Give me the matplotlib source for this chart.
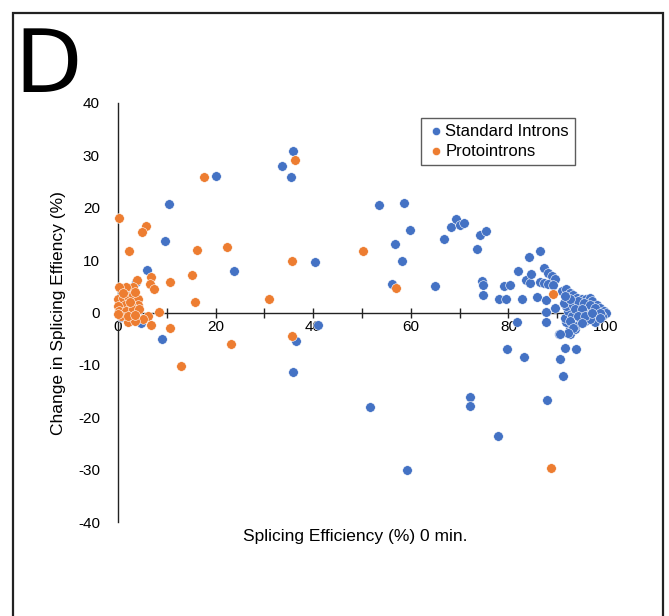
import matplotlib
matplotlib.use("Agg")
import matplotlib.pyplot as plt
from matplotlib.patches import Rectangle
from matplotlib.ticker import MultipleLocator

plt.rcParams['font.family'] = ['Liberation Sans', 'DejaVu Sans']

# ---- data ----
std_x = [35.8, 33.7, 35.5, 20.1, 10.5, 9.7, 6.0, 23.8, 40.4, 41.0, 36.5, 35.9, 9.0, 3.7, 2.5, 0.6, 4.8, 1.5,
         53.5, 58.6, 59.8, 56.8, 58.1, 56.1, 65.0, 66.8, 68.2, 69.3, 70.1, 70.8, 73.5, 74.2, 75.5,
         74.6, 74.7, 74.8, 78.1, 79.5, 79.2, 80.3, 82.0, 84.2, 86.5, 83.6, 84.4, 84.6, 82.7, 85.8,
         86.5, 87.3, 88.2, 88.9, 89.5, 87.2, 88.2, 89.2, 87.8, 87.7, 89.5, 87.8, 81.7,
         51.6, 72.1, 72.1, 77.8, 59.3, 88.0, 79.8, 83.2, 90.4, 92.6, 93.6, 91.5, 93.9, 90.5, 91.2,
         90.9, 91.9, 92.6, 93.3, 94.0, 95.0, 96.0, 96.7, 97.1, 98.1, 98.8, 99.5, 100.0, 99.1, 98.1,
         97.7, 95.7, 94.7, 93.6, 92.6, 91.9, 91.6, 92.3, 91.9, 91.3, 93.3, 94.7, 96.0, 97.4, 95.4,
         94.0, 93.0, 96.4, 94.3, 92.6, 91.6, 95.4, 96.7, 97.7, 93.6, 95.0, 92.6, 96.7, 98.8, 94.3,
         95.7, 97.1, 93.3, 92.3, 95.0, 98.8, 90.6]
std_y = [30.8, 28.0, 25.8, 26.1, 20.8, 13.6, 8.2, 7.9, 9.6, -2.4, -5.5, -11.3, -5.0, 5.8, 3.5, -0.8, -2.0, 2.0,
         20.6, 20.9, 15.8, 13.1, 9.9, 5.5, 5.0, 14.1, 16.4, 17.8, 16.8, 17.0, 12.2, 14.8, 15.6,
         6.1, 5.2, 3.4, 2.5, 2.5, 5.0, 5.2, 7.9, 10.6, 11.7, 6.2, 5.7, 7.3, 2.5, 2.9,
         5.8, 8.5, 7.6, 6.9, 6.4, 5.7, 5.5, 5.3, 2.3, 0.1, 0.9, -1.9, -1.8,
         -18.1, -16.2, -17.8, -23.6, -30.0, -16.7, -6.9, -8.5, -4.2, -4.1, -3.2, -6.7, -7.0, -8.8, -12.1,
         4.2, 4.4, 3.7, 3.4, 2.8, 2.5, 2.5, 2.8, 2.2, 1.5, 0.9, 0.25, -0.06, -0.7, -0.7,
         -1.9, -1.6, -1.3, -2.6, -2.9, -1.9, -1.0, 0.25, 1.2, 1.8, 1.5, 1.2, 0.9, 0.25, -0.06,
         -0.06, -0.7, -0.7, 2.2, 2.5, 3.1, 1.8, 1.5, 0.9, 0.6, 0.6, -1.6, -1.3, -0.06, -0.7,
         -0.7, -0.06, -2.9, -3.9, -2.0, -1.0, -4.2]

proto_x = [0.3, 5.7, 5.0, 2.3, 17.7, 36.3, 16.2, 22.3, 35.6, 15.1, 10.6, 15.7, 31.0, 6.8, 6.5, 7.3,
           3.9, 3.1, 1.7, 0.3, 8.5, 6.1, 5.1, 6.7, 10.6, 2.0, 3.4, 35.6, 23.1, 13.0, 50.3, 57.0,
           89.1, 88.7,
           0.0, 1.0, 2.0, 3.1, 4.1, 4.1, 2.7, 1.4, 0.0, 0.3, 1.7, 3.1, 4.4, 0.7, 2.0, 3.4, 0.0,
           2.4, 1.0, 3.5]
proto_y = [18.1, 16.5, 15.3, 11.7, 25.8, 29.2, 12.0, 12.5, 9.9, 7.1, 5.8, 2.0, 2.5, 6.8, 5.5, 4.4,
           6.3, 4.8, 4.8, 4.8, 0.1, -0.7, -1.2, -2.4, -2.9, -1.8, -1.7, -4.4, -6.0, -10.2, 11.7, 4.6,
           3.6, -29.6,
           2.5, 2.8, 3.1, 3.3, 2.5, 1.5, 1.5, 1.5, 1.2, 0.3, 0.3, 0.6, 0.6, -0.7, -0.7, -0.5, -0.3,
           2.0, 3.8, 4.0]

x_ticks = [0, 20, 40, 60, 80, 100]
y_ticks = [-40, -30, -20, -10, 0, 10, 20, 30, 40]
series_names = ["Standard Introns", "Protointrons"]
colors = ["#4472C4", "#ED7D31"]

# ---- figure ----
fig = plt.figure(figsize=(6.69, 6.16), dpi=100)
W, H = 669, 616
ax = fig.add_axes([118 / W, 1 - 522 / H, (606 - 118) / W, (522 - 103) / H])

ax.scatter(std_x, std_y, s=48, color=colors[0], edgecolors='white', linewidths=0.4,
           label=series_names[0], clip_on=False, zorder=3)
ax.scatter(proto_x, proto_y, s=48, color=colors[1], edgecolors='white', linewidths=0.4,
           label=series_names[1], clip_on=False, zorder=4)

ax.set_xlim(0, 100)
ax.set_ylim(-40, 40)
ax.spines['top'].set_visible(False)
ax.spines['right'].set_visible(False)
ax.spines['bottom'].set_position(('data', 0))
for s in ('left', 'bottom'):
    ax.spines[s].set_linewidth(1.0)
    ax.spines[s].set_color('#222222')

ax.set_xticks(x_ticks)
ax.set_xticklabels([str(v) for v in x_ticks])
ax.xaxis.set_minor_locator(MultipleLocator(10))
ax.tick_params(axis='x', which='both', direction='inout', length=7, width=1.0,
               color='#222222', labelsize=11, pad=2)
ax.set_yticks(y_ticks)
ax.set_yticklabels([str(v) for v in y_ticks])
ax.tick_params(axis='y', length=0, labelsize=11, pad=13)

leg = ax.legend(loc='upper left', bbox_to_anchor=(421 / W, 1 - 118 / H),
                bbox_transform=fig.transFigure, frameon=True, fancybox=False,
                fontsize=12, handletextpad=0.0, handlelength=1.1, borderpad=0.35,
                labelspacing=0.3, markerscale=0.85, borderaxespad=0)
leg.get_frame().set_edgecolor('#333333')
leg.get_frame().set_linewidth(1.0)

fig.text(355 / W, 1 - 537 / H, "Splicing Efficiency (%) 0 min.", ha='center', va='center',
         fontsize=12.5)
fig.text(58 / W, 1 - 313 / H, "Change in Splicing Effiency (%)", ha='center', va='center',
         rotation=90, fontsize=12.5)
fig.text(14 / W, 1 - 92 / H, "D", ha='left', va='baseline', fontsize=63,
         family=['DejaVu Sans'])

fig.patches.append(Rectangle((13 / W, -0.02), (663 - 13) / W, 1.02 - 13 / H,
                             transform=fig.transFigure, fill=False, edgecolor='#222222',
                             linewidth=1.6))

fig.savefig("out.png", dpi=100)
